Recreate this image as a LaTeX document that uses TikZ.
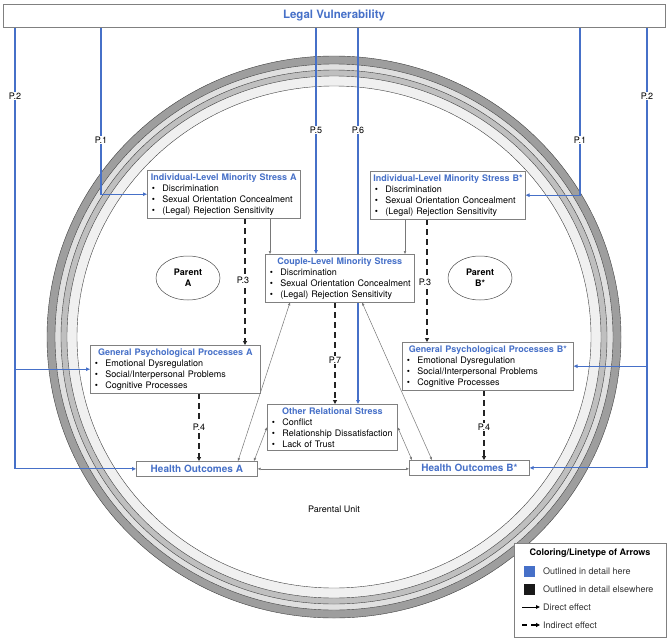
\documentclass[tikz,border=0pt]{standalone}
\usepackage{fontspec}
\setmainfont{TeX Gyre Heros}
\usetikzlibrary{arrows.meta,shapes.geometric,calc}
\definecolor{lvblue}{RGB}{70,112,200}
\definecolor{boxgray}{RGB}{128,128,128}
\definecolor{dashk}{RGB}{35,35,35}
\definecolor{thingray}{RGB}{120,120,120}
\pgfdeclarelayer{rings}
\pgfdeclarelayer{lines}
\pgfsetlayers{rings,lines,main}
\newcommand{\bl}{\hspace*{1.5pt}\makebox[10.5pt][l]{\textbullet}}
\newcommand{\ttl}[1]{{\centering\mbox{\color{lvblue}\bfseries #1}\par}}
\begin{document}
\begin{tikzpicture}[x=1pt,y=-1pt,
 box/.style={draw=boxgray,fill=white,line width=0.7pt,inner xsep=3pt,inner ysep=3pt,anchor=north west,align=left,font=\fontsize{9}{11}\selectfont},
 hbox/.style={draw=boxgray,fill=white,line width=0.7pt,inner sep=0pt,minimum height=15pt,anchor=north west,font=\fontsize{10}{12}\selectfont\bfseries,text=lvblue},
 barrow/.style={draw=lvblue,line width=1.2pt,-{Triangle[length=4pt,width=3.5pt]}},
 darrow/.style={draw=dashk,line width=1.4pt,dash pattern=on 5.5pt off 4.5pt,-{Triangle[length=4pt,width=4pt]}},
 garrow/.style={draw=thingray,line width=0.5pt,-{Triangle[length=3pt,width=2.4pt]}},
 gdarrow/.style={draw=thingray,line width=0.5pt,{Triangle[length=3pt,width=2.4pt]}-{Triangle[length=3pt,width=2.4pt]}},
 plab/.style={fill=white,inner sep=1pt,font=\fontsize{9}{11}\selectfont},
 ringline/.style={draw=black!75,line width=0.4pt},
 parent/.style={ellipse,draw=black!70,line width=0.5pt,fill=white,minimum width=64pt,minimum height=44pt,inner sep=0pt,align=center,font=\fontsize{9}{11}\selectfont\bfseries},
]
\useasboundingbox (0,0) rectangle (669,640);

% rings
\begin{pgfonlayer}{rings}
\fill[white] (0,0) rectangle (669,640);
\filldraw[ringline,fill=black!38] (334,337) ellipse [x radius=287,y radius=281];
\filldraw[ringline,fill=black!12] (334,337) ellipse [x radius=279,y radius=273];
\filldraw[ringline,fill=black!25] (334,337) ellipse [x radius=273,y radius=267];
\filldraw[ringline,fill=black!6] (334,337) ellipse [x radius=267,y radius=261];
\filldraw[ringline,fill=white] (334,337) ellipse [x radius=257,y radius=251];
\end{pgfonlayer}

% top box
\node[draw=boxgray,fill=white,line width=0.7pt,minimum width=662pt,minimum height=23pt,inner sep=0pt,font=\fontsize{11.5}{13}\selectfont\bfseries,text=lvblue] (LV) at (334,15.5) {Legal Vulnerability};

% boxes
\node[box,text width=147pt] (indA) at (147,170) {\ttl{Individual-Level Minority Stress A}\bl Discrimination\\\bl Sexual Orientation Concealment\\\bl (Legal) Rejection Sensitivity};
\node[box,text width=149pt] (indB) at (370,171) {\ttl{Individual-Level Minority Stress B*}\bl Discrimination\\\bl Sexual Orientation Concealment\\\bl (Legal) Rejection Sensitivity};
\node[box,text width=143pt] (cp) at (265,254) {\ttl{Couple-Level Minority Stress}\bl Discrimination\\\bl Sexual Orientation Concealment\\\bl (Legal) Rejection Sensitivity};
\node[box,text width=164pt] (gA) at (90,345) {\ttl{General Psychological Processes A}\bl Emotional Dysregulation\\\bl Social/Interpersonal Problems\\\bl Cognitive Processes};
\node[box,text width=165pt] (gB) at (402,342) {\ttl{General Psychological Processes B*}\bl Emotional Dysregulation\\\bl Social/Interpersonal Problems\\\bl Cognitive Processes};
\node[box,text width=124pt] (oth) at (267,404) {\ttl{Other Relational Stress}\bl Conflict\\\bl Relationship Dissatisfaction\\\bl Lack of Trust};
\node[hbox,minimum width=121pt] (hA) at (136,461) {Health Outcomes A};
\node[hbox,minimum width=120pt] (hB) at (409,460) {Health Outcomes B*};

\node[parent] (parA) at (188,278) {Parent\\A};
\node[parent] (parB) at (480,278) {Parent\\B*};
\node[font=\fontsize{9}{11}\selectfont] (pu) at (334,509) {Parental Unit};

% x positions
\coordinate (p2l) at (15,0);
\coordinate (p1l) at (101,0);
\coordinate (p5) at (316,0);
\coordinate (p6) at (358,0);
\coordinate (p1r) at (580,0);
\coordinate (p2r) at (647,0);
\coordinate (p3l) at (245,0);
\coordinate (p3r) at (427,0);
\coordinate (p7) at (335,0);
\coordinate (p4l) at (199,0);
\coordinate (p4r) at (484,0);
\coordinate (g1) at (270,0);
\coordinate (g2) at (405,0);

\begin{pgfonlayer}{lines}
% blue
\draw[barrow] (LV.south -| p2l) |- (hA.west);
\draw[barrow] (p2l |- gA.west) -- (gA.west);
\draw[barrow] (LV.south -| p1l) |- (indA.west);
\draw[barrow] (LV.south -| p5) -- (cp.north -| p5);
\draw[barrow] (LV.south -| p6) -- (oth.north -| p6);
\draw[barrow] (LV.south -| p1r) |- (indB.east);
\draw[barrow] (LV.south -| p2r) |- (hB.east);
\draw[barrow] (p2r |- gB.east) -- (gB.east);
% dashed
\draw[darrow] (indA.south -| p3l) -- (gA.north -| p3l);
\draw[darrow] (indB.south -| p3r) -- (gB.north -| p3r);
\draw[darrow] (cp.south -| p7) -- (oth.north -| p7);
\draw[darrow] (gA.south -| p4l) -- (hA.north -| p4l);
\draw[darrow] (gB.south -| p4r) -- (hB.north -| p4r);
% gray
\draw[garrow] (indA.south -| g1) -- (cp.north -| g1);
\draw[garrow] (indB.south -| g2) -- (cp.north -| g2);
\draw[gdarrow] ($(cp.south west)+(25,0)$) -- ($(hA.north west)+(102,0)$);
\draw[gdarrow] (oth.west) -- ($(hA.north west)+(118,0)$);
\draw[gdarrow] ($(cp.south west)+(97,0)$) -- ($(hB.north west)+(23,0)$);
\draw[gdarrow] (oth.east) -- ($(hB.north west)+(3,0)$);
\draw[gdarrow] (hA.east) -- (hA.east -| hB.west);
\end{pgfonlayer}

% labels
\node[plab] at (15,96) {P.2};
\node[plab] at (647,96) {P.2};
\node[plab] at (101,140) {P.1};
\node[plab] at (580,140) {P.1};
\node[plab] at (316,130) {P.5};
\node[plab] at (358,130) {P.6};
\node[plab] at (243,280) {P.3};
\node[plab] at (425,282) {P.3};
\node[plab] at (335,360) {P.7};
\node[plab] at (199,427) {P.4};
\node[plab] at (484,427) {P.4};

% legend
\node[draw=boxgray,fill=white,line width=0.7pt,minimum width=152pt,minimum height=94pt,anchor=north west,inner sep=0pt] (leg) at (514,543) {};
\node[font=\fontsize{9}{11}\selectfont\bfseries] (legt) at (590,553) {Coloring/Linetype of Arrows};
\node[fill=lvblue,minimum size=11pt,inner sep=0pt,anchor=north west] (sq1) at (524,566) {};
\node[fill=black!90,minimum size=11pt,inner sep=0pt,anchor=north west] (sq2) at (524,584) {};
\node[anchor=west,inner sep=0pt,font=\fontsize{9}{11}\selectfont,text=black!80] (l1) at (543,571) {Outlined in detail here};
\node[anchor=west,inner sep=0pt,font=\fontsize{9}{11}\selectfont,text=black!80] (l2) at (543,589) {Outlined in detail elsewhere};
\node[anchor=west,inner sep=0pt,font=\fontsize{9}{11}\selectfont,text=black!80] (l3) at (543,607) {Direct effect};
\node[anchor=west,inner sep=0pt,font=\fontsize{9}{11}\selectfont,text=black!80] (l4) at (543,625) {Indirect effect};
\draw[black,line width=1pt,-{Triangle[length=4pt,width=3.5pt]}] ($(l3.west)+(-21,0)$) -- ($(l3.west)+(-3,0)$);
\draw[black,line width=1.4pt,dash pattern=on 5pt off 4pt,-{Triangle[length=4pt,width=4pt]}] ($(l4.west)+(-21,0)$) -- ($(l4.west)+(-3,0)$);
\end{tikzpicture}
\end{document}
